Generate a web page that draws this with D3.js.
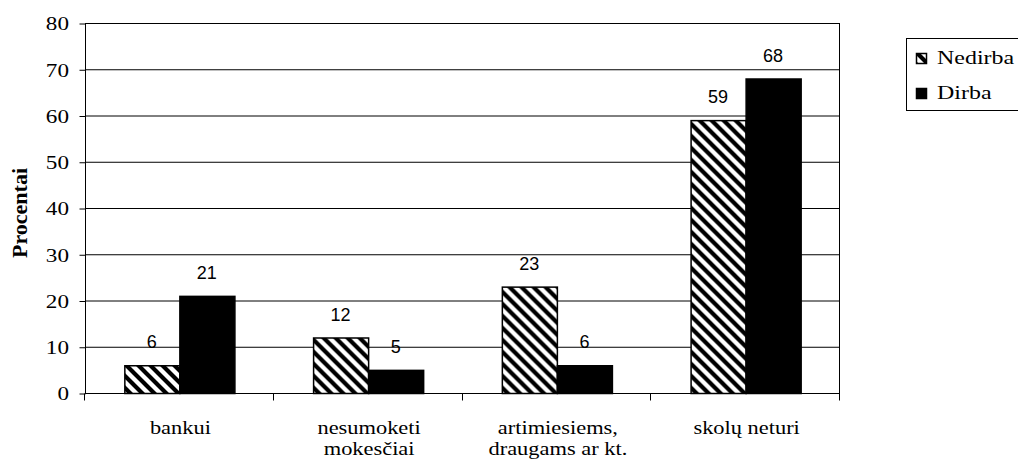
<!DOCTYPE html>
<html>
<head>
<meta charset="utf-8">
<script src="https://cdn.jsdelivr.net/npm/d3@7"></script>
<style>
  html, body { margin: 0; padding: 0; background: #fff; }
  svg { display: block; }
  .serif { font-family: "Liberation Serif", "Times New Roman", "DejaVu Serif", serif; }
  .sans { font-family: "Liberation Sans", Arial, sans-serif; }
</style>
</head>
<body>
<svg id="chart" width="1018" height="461"></svg>
<script>
// ---- data ----
const categories = [["bankui"], ["nesumoketi", "mokesčiai"], ["artimiesiems,", "draugams ar kt."], ["skolų neturi"]];
const seriesNames = ["Nedirba", "Dirba"];
const nedirba = [6, 12, 23, 59];
const dirba = [21, 5, 6, 68];
const yTicks = [0, 10, 20, 30, 40, 50, 60, 70, 80];
const yTitle = "Procentai";

const svg = d3.select("#chart");
const margin = { left: 85, right: 840, top: 23, bottom: 393 };
const stretch = 1.18;

const defs = svg.append("defs");
const pat = defs.append("pattern")
  .attr("id", "hatch")
  .attr("patternUnits", "userSpaceOnUse")
  .attr("width", 12).attr("height", 12);
pat.append("rect").attr("width", 12).attr("height", 12).attr("fill", "#fff");
pat.append("path")
  .attr("d", "M-3,-3 L15,15 M-3,9 L3,15 M9,-3 L15,3")
  .attr("stroke", "#000").attr("stroke-width", 4.2);

const catKeys = categories.map((c, i) => i);
const x0 = d3.scaleBand().domain(catKeys).range([margin.left, margin.right]).paddingInner(0).paddingOuter(0);
const x1 = d3.scaleBand().domain(seriesNames).range([0, x0.bandwidth()]).paddingInner(0).paddingOuter(0.715);
const y = d3.scaleLinear().domain([0, 80]).range([margin.bottom, margin.top]);

// gridlines
svg.append("g").selectAll("line").data(yTicks.filter(t => t > 0)).join("line")
  .attr("x1", margin.left).attr("x2", margin.right)
  .attr("y1", d => y(d) + 0.5).attr("y2", d => y(d) + 0.5)
  .attr("stroke", "#000").attr("stroke-width", 1);

// right border
svg.append("line")
  .attr("x1", margin.right - 0.5).attr("x2", margin.right - 0.5)
  .attr("y1", margin.top).attr("y2", margin.bottom + 7)
  .attr("stroke", "#000");

// y axis
const yAxis = d3.axisLeft(y).tickValues(yTicks).tickSize(6).tickPadding(10).tickFormat(d3.format("d"));
const gy = svg.append("g").attr("transform", `translate(${margin.left + 0.5},0.5)`).call(yAxis);
gy.attr("font-family", null).attr("font-size", null);
gy.select(".domain").attr("d", `M0,${margin.top}V${margin.bottom}`).attr("stroke", "#000");
gy.selectAll(".tick line").attr("stroke", "#000");
gy.selectAll(".tick text")
  .attr("class", "serif")
  .attr("x", -16.5 / 1.22)
  .attr("transform", "scale(1.22,1)")
  .style("font-size", "19px").attr("fill", "#000").attr("dy", "0.34em");

// x axis
const gx = svg.append("g").attr("transform", `translate(0,${margin.bottom + 0.5})`);
gx.append("line").attr("x1", margin.left).attr("x2", margin.right).attr("stroke", "#000");
gx.selectAll(".sep").data(catKeys.concat([catKeys.length])).join("line")
  .attr("class", "sep")
  .attr("x1", d => Math.round(margin.left + d * x0.step()) - 0.5)
  .attr("x2", d => Math.round(margin.left + d * x0.step()) - 0.5)
  .attr("y1", 0).attr("y2", 7).attr("stroke", "#000");

// category labels
const catG = svg.append("g");
categories.forEach((lines, i) => {
  const cx = x0(i) + x0.bandwidth() / 2;
  const t = catG.append("text")
    .attr("class", "serif")
    .attr("transform", `translate(${cx + 1},0) scale(${stretch},1)`)
    .style("font-size", "19px")
    .attr("text-anchor", "middle").attr("fill", "#000");
  lines.forEach((ln, j) => {
    t.append("tspan").attr("x", 0).attr("y", 434 + j * 21).text(ln);
  });
});

// bars
const data = catKeys.map(i => ({ i, vals: [{ s: "Nedirba", v: nedirba[i] }, { s: "Dirba", v: dirba[i] }] }));
const groups = svg.append("g").selectAll("g").data(data).join("g")
  .attr("transform", d => `translate(${x0(d.i)},0)`);
groups.selectAll("rect").data(d => d.vals).join("rect")
  .attr("x", d => x1(d.s) + 0.5)
  .attr("y", d => y(d.v) + 0.5)
  .attr("width", x1.bandwidth())
  .attr("height", d => y(0) - y(d.v))
  .attr("fill", d => d.s === "Nedirba" ? "url(#hatch)" : "#000")
  .attr("stroke", "#000").attr("stroke-width", 1.5);
groups.selectAll("text").data(d => d.vals).join("text")
  .attr("class", "sans")
  .attr("x", d => x1(d.s) + x1.bandwidth() / 2)
  .attr("y", d => y(d.v) - 17)
  .attr("text-anchor", "middle")
  .style("font-size", "18px").attr("fill", "#000")
  .text(d => d.v);

// y title
svg.append("text")
  .attr("class", "serif")
  .attr("transform", `translate(27,${(margin.top + margin.bottom) / 2 + 5}) rotate(-90) scale(1.1,1)`)
  .attr("text-anchor", "middle")
  .style("font-weight", "bold").style("font-size", "20px").attr("fill", "#000")
  .text(yTitle);

// legend
const lg = svg.append("g");
lg.append("rect").attr("x", 906.5).attr("y", 38.5).attr("width", 120).attr("height", 72)
  .attr("fill", "#fff").attr("stroke", "#000");
const legY = [53, 88];
seriesNames.forEach((s, k) => {
  lg.append("rect").attr("x", 916.5).attr("y", legY[k] + 0.5).attr("width", 10).attr("height", 10)
    .attr("fill", s === "Nedirba" ? "url(#hatch)" : "#000").attr("stroke", "#000").attr("stroke-width", 1.5);
  lg.append("text").attr("class", "serif")
    .attr("transform", `translate(937,${legY[k] + 11}) scale(1.26,1)`)
    .style("font-size", "19px").attr("fill", "#000")
    .text(s);
});
</script>
</body>
</html>
